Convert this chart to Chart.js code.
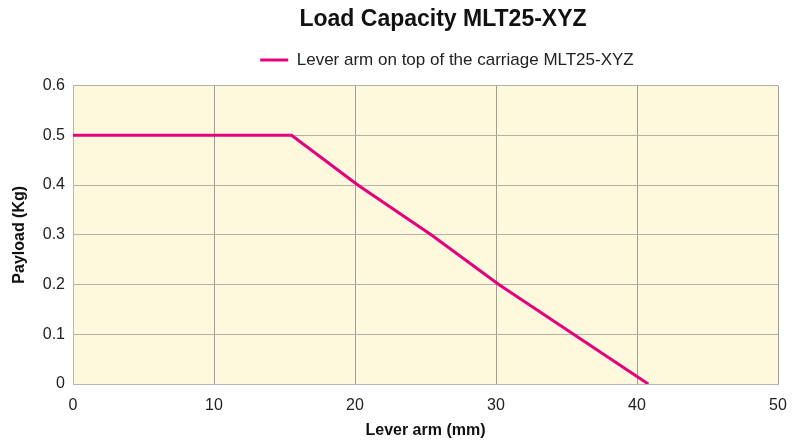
<!DOCTYPE html>
<html>
<head>
<meta charset="utf-8">
<script src="https://cdn.jsdelivr.net/npm/chart.js@4"></script>
<style>
  html, body { margin: 0; padding: 0; background: #fff; }
  #wrap { width: 800px; height: 444px; }
</style>
</head>
<body>
<div id="wrap"><canvas id="myChart" width="800" height="444"></canvas></div>
<script>
// values
var leverArm = [0, 15.5, 20.2, 25.4, 30.2, 35.5, 40.8];   // mm
var payload  = [0.5, 0.5, 0.4, 0.3, 0.2, 0.1, 0];         // Kg
var seriesName = 'Lever arm on top of the carriage MLT25-XYZ';
var chartTitle = 'Load Capacity MLT25-XYZ';

var points = [];
for (var i = 0; i < leverArm.length; i++) {
    points.push({ x: leverArm[i], y: payload[i] });
}

var magenta = '#e5007e';
var fontFam = '"Liberation Sans", Arial, sans-serif';

// cream fill behind the plot + nudge title/legend to the right like the original
var plotBg = {
    id: 'plotBg',
    beforeDraw: function (chart) {
        var a = chart.chartArea, c = chart.ctx;
        c.save();
        c.fillStyle = '#fef8dc';
        c.fillRect(a.left, a.top, a.right - a.left, a.bottom - a.top);
        c.restore();
    },
    afterLayout: function (chart) {
        if (chart.titleBlock) { chart.titleBlock.left = 86; chart.titleBlock.right = 800; }
        if (chart.legend) { chart.legend.left = 94; chart.legend.right = 800; }
    }
};

var ctx = document.getElementById('myChart');
var myChart = new Chart(ctx, {
    type: 'line',
    data: {
        datasets: [{
            label: seriesName,
            data: points,
            borderColor: magenta,
            backgroundColor: magenta,
            borderWidth: 3,
            pointRadius: 0,
            tension: 0,
            fill: false
        }]
    },
    plugins: [plotBg],
    options: {
        responsive: false,
        animation: false,
        layout: { padding: { top: 0, right: 22, bottom: 0, left: 0 } },
        plugins: {
            title: {
                display: true,
                text: chartTitle,
                color: '#111',
                font: { family: fontFam, size: 23, weight: 'bold' },
                padding: { top: 6, bottom: 8 }
            },
            legend: {
                display: true,
                labels: {
                    color: '#222',
                    font: { family: fontFam, size: 17 },
                    boxWidth: 28,
                    boxHeight: 3,
                    padding: 10,
                    generateLabels: function (chart) {
                        var items = Chart.defaults.plugins.legend.labels.generateLabels(chart);
                        items.forEach(function (it) { it.lineWidth = 0; });
                        return items;
                    }
                }
            },
            tooltip: { enabled: false }
        },
        scales: {
            // empty spacer above the plot
            xTop: {
                type: 'linear',
                position: 'top',
                min: 0,
                max: 50,
                grid: { display: false, drawTicks: false },
                border: { display: false },
                ticks: { display: false },
                afterFit: function (scale) { scale.height = 7; }
            },
            x: {
                type: 'linear',
                min: 0,
                max: 50,
                ticks: {
                    stepSize: 10,
                    color: '#222',
                    font: { family: fontFam, size: 16 },
                    padding: 12
                },
                grid: { color: '#a09e96', drawTicks: false },
                border: { color: '#b8b6ae' },
                title: {
                    display: true,
                    text: 'Lever arm (mm)',
                    color: '#111',
                    font: { family: fontFam, size: 16, weight: 'bold' },
                    padding: { top: 0, bottom: 4 }
                },
                afterFit: function (scale) { scale.height = 60; }
            },
            y: {
                min: 0,
                max: 0.6,
                ticks: {
                    stepSize: 0.1,
                    color: '#222',
                    font: { family: fontFam, size: 16 },
                    padding: 8
                },
                grid: { color: '#b3b1a8', drawTicks: false },
                border: { color: '#b8b6ae' },
                title: {
                    display: true,
                    text: 'Payload (Kg)',
                    color: '#111',
                    font: { family: fontFam, size: 16, weight: 'bold' },
                    padding: { top: 10, bottom: 0 }
                },
                afterFit: function (scale) { scale.width = 73; }
            }
        }
    }
});
</script>
</body>
</html>
